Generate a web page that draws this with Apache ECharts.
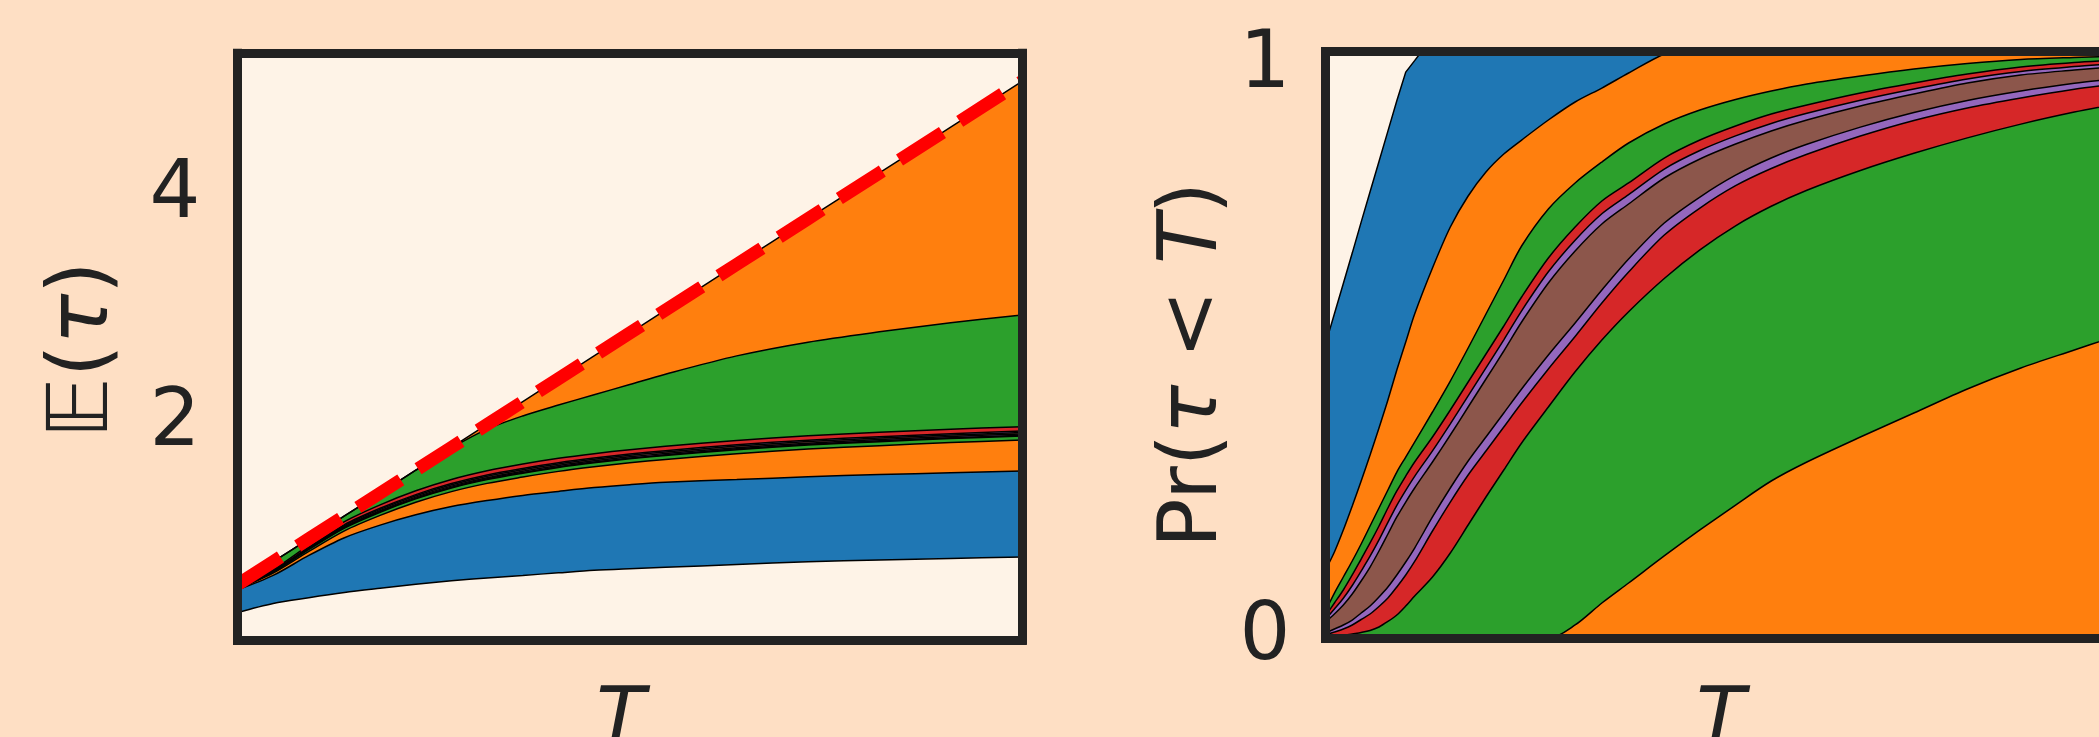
<!DOCTYPE html>
<html><head><meta charset="utf-8">
<script src="https://cdn.jsdelivr.net/npm/echarts@6/dist/echarts.min.js"></script>
<style>html,body{margin:0;padding:0;background:#fedfc4;} #c{width:2099px;height:737px;}</style>
</head><body><div id="c"></div>
<script>
// ---------- left panel: E(tau) vs T ----------
const T_LEFT = [0.6, 0.8, 1.0, 1.2, 1.4, 1.6, 1.8, 2.0, 2.2, 2.4, 2.6, 2.8, 3.0, 3.4, 3.8, 4.2, 4.6, 5.0];
const L0 = [0.6, 0.8, 1.0, 1.2, 1.4, 1.6, 1.8, 2.0, 2.2, 2.4, 2.6, 2.8, 3.0, 3.4, 3.8, 4.2, 4.6, 5.0];
const L1 = [0.6, 0.8, 1.0, 1.2, 1.4, 1.6, 1.795, 1.96, 2.075, 2.17, 2.26, 2.35, 2.44, 2.6, 2.72, 2.81, 2.89, 2.957];
const L2 = [0.561, 0.73, 0.945, 1.15, 1.297, 1.42, 1.519, 1.595, 1.654, 1.704, 1.745, 1.78, 1.809, 1.861, 1.901, 1.932, 1.959, 1.981];
const L3 = [0.561, 0.72, 0.927, 1.124, 1.267, 1.387, 1.484, 1.559, 1.616, 1.666, 1.707, 1.742, 1.771, 1.823, 1.863, 1.893, 1.92, 1.942];
const L4 = [0.561, 0.717, 0.921, 1.116, 1.258, 1.377, 1.473, 1.548, 1.605, 1.655, 1.696, 1.731, 1.76, 1.811, 1.851, 1.881, 1.908, 1.93];
const L5 = [0.561, 0.714, 0.915, 1.106, 1.246, 1.365, 1.461, 1.535, 1.591, 1.641, 1.682, 1.717, 1.746, 1.797, 1.837, 1.868, 1.895, 1.917];
const L6 = [0.561, 0.711, 0.91, 1.099, 1.238, 1.356, 1.451, 1.525, 1.581, 1.631, 1.671, 1.706, 1.735, 1.787, 1.827, 1.857, 1.884, 1.906];
const L7 = [0.561, 0.709, 0.907, 1.094, 1.233, 1.35, 1.445, 1.518, 1.574, 1.624, 1.665, 1.70, 1.729, 1.78, 1.82, 1.85, 1.877, 1.899];
const L8 = [0.561, 0.70, 0.89, 1.07, 1.205, 1.32, 1.413, 1.485, 1.54, 1.59, 1.63, 1.665, 1.694, 1.745, 1.785, 1.815, 1.842, 1.864];
const L9 = [0.553, 0.68, 0.855, 1.01, 1.12, 1.21, 1.282, 1.335, 1.38, 1.415, 1.448, 1.474, 1.495, 1.518, 1.543, 1.562, 1.578, 1.593];
const L10 = [0.356, 0.435, 0.485, 0.53, 0.567, 0.602, 0.633, 0.658, 0.68, 0.703, 0.725, 0.739, 0.751, 0.776, 0.80, 0.815, 0.829, 0.841];
const LEFT_TICKS = [2, 4];

// ---------- right panel: Pr(tau < T) vs T ----------
const T_RIGHT = [0.6, 0.65, 0.7, 0.75, 0.8, 0.85, 0.9, 0.95, 1.0, 1.05, 1.1, 1.2, 1.3, 1.4, 1.5, 1.6, 1.7, 1.85, 2.0, 2.15, 2.3, 2.5, 2.7, 2.9, 3.1, 3.3, 3.6, 3.9, 4.2, 4.5, 4.8, 5.0];
const B0 = [0.514, 0.567, 0.620, 0.673, 0.727, 0.780, 0.833, 0.886, 0.939, 0.989, 1.009, 1.05, 1.06, 1.06, 1.06, 1.06, 1.06, 1.06, 1.06, 1.06, 1.06, 1.06, 1.06, 1.06, 1.06, 1.06, 1.06, 1.06, 1.06, 1.06, 1.06, 1.06];
const B1 = [0.1196, 0.151, 0.1895, 0.2314, 0.275, 0.3204, 0.3676, 0.4164, 0.4688, 0.5177, 0.5666, 0.6469, 0.7185, 0.7727, 0.8146, 0.846, 0.8704, 0.9054, 0.9368, 0.9612, 0.9874, 1.0206, 1.04, 1.05, 1.055, 1.06, 1.06, 1.06, 1.06, 1.06, 1.06, 1.06];
const B2 = [0.048, 0.0794, 0.1074, 0.1353, 0.165, 0.1964, 0.2279, 0.2593, 0.2907, 0.3169, 0.3431, 0.3955, 0.4496, 0.5073, 0.5666, 0.626, 0.6854, 0.75, 0.7954, 0.832, 0.8652, 0.8984, 0.9228, 0.9412, 0.956, 0.9682, 0.9822, 0.9944, 1.004, 1.011, 1.0145, 1.0162];
const B3 = [0.0393, 0.062, 0.0847, 0.1109, 0.1388, 0.1668, 0.1964, 0.2279, 0.2576, 0.2837, 0.3082, 0.3518, 0.399, 0.4479, 0.4968, 0.5457, 0.5963, 0.6644, 0.7185, 0.7639, 0.7954, 0.839, 0.8704, 0.8949, 0.9158, 0.9316, 0.9525, 0.97, 0.9857, 0.9979, 1.0058, 1.0093];
const B4 = [0.0335, 0.0515, 0.0702, 0.0925, 0.1177, 0.1437, 0.1723, 0.2029, 0.2326, 0.2588, 0.2832, 0.3277, 0.3749, 0.4238, 0.4727, 0.5216, 0.5722, 0.6403, 0.6955, 0.7417, 0.7751, 0.8198, 0.8521, 0.8776, 0.8994, 0.9171, 0.9399, 0.9595, 0.977, 0.9902, 0.9986, 1.003];
const B5 = [0.0288, 0.0428, 0.0585, 0.0777, 0.1004, 0.1248, 0.1528, 0.1825, 0.2122, 0.2383, 0.2628, 0.3082, 0.3553, 0.4042, 0.4531, 0.502, 0.5526, 0.6207, 0.6766, 0.7238, 0.7587, 0.8041, 0.8373, 0.8634, 0.8862, 0.9054, 0.9298, 0.9508, 0.97, 0.9839, 0.9927, 0.9979];
const B6 = [0.0096, 0.0166, 0.0236, 0.0323, 0.0445, 0.0567, 0.0725, 0.0899, 0.1109, 0.1336, 0.158, 0.2122, 0.2628, 0.3099, 0.3518, 0.3937, 0.4357, 0.495, 0.5509, 0.6085, 0.6627, 0.7255, 0.7709, 0.809, 0.839, 0.863, 0.893, 0.9185, 0.9395, 0.956, 0.9695, 0.9765];
const B7 = [0.0061, 0.0113, 0.0166, 0.0236, 0.0332, 0.0428, 0.0559, 0.0707, 0.0899, 0.1109, 0.1345, 0.1877, 0.2383, 0.2855, 0.3274, 0.3693, 0.4112, 0.4706, 0.5273, 0.5858, 0.64, 0.7045, 0.7517, 0.7907, 0.8207, 0.8455, 0.8773, 0.9045, 0.9264, 0.9438, 0.959, 0.9669];
const B8 = [0.0017, 0.0035, 0.0052, 0.0079, 0.0105, 0.014, 0.0201, 0.0297, 0.041, 0.0567, 0.0742, 0.1074, 0.1493, 0.1982, 0.2471, 0.2942, 0.3414, 0.4042, 0.4657, 0.5212, 0.5707, 0.6287, 0.6787, 0.7207, 0.7547, 0.7827, 0.8172, 0.8472, 0.8742, 0.8982, 0.9192, 0.9312];
const B9 = [0, 0, 0, 0, 0, 0, 0, 0, 0, 0, 0, 0, 0, 0, 0, 0, 0, 0, 0.0236, 0.062, 0.0969, 0.1441, 0.1895, 0.2331, 0.275, 0.3082, 0.3518, 0.3937, 0.4357, 0.4723, 0.5038, 0.5247];
const RIGHT_TICKS = [0, 1];

// ---------- styling ----------
const BLUE = '#1f77b4', ORANGE = '#ff7f0e', GREEN = '#2ca02c', RED = '#d62728', PURPLE = '#9467bd', BROWN = '#8c564b';
const FIG_BG = '#fedfc4', AX_BG = '#fef3e7', INK = '#222222';
const FONT = 'DejaVu Sans';

const leftCurves = [L0, L1, L2, L3, L4, L5, L6, L7, L8, L9, L10];
const leftFills = [ORANGE, GREEN, RED, PURPLE, BROWN, PURPLE, RED, GREEN, ORANGE, BLUE, AX_BG];
const rightCurves = [B0, B1, B2, B3, B4, B5, B6, B7, B8, B9];
const rightFills = [BLUE, ORANGE, GREEN, RED, PURPLE, BROWN, PURPLE, RED, GREEN, ORANGE];

function pairs(xs, ys) { return xs.map((x, i) => [x, ys[i]]); }

const series = [];
function addBands(xs, curves, fills, xi, yi, smoothFor) {
  curves.forEach((ys, k) => {
    series.push({
      type: 'line', xAxisIndex: xi, yAxisIndex: yi, data: pairs(xs, ys),
      smooth: smoothFor(k), showSymbol: false, symbol: 'none', silent: true, clip: true,
      lineStyle: { width: 0, opacity: 0 },
      areaStyle: { color: fills[k], opacity: 1, origin: 'start' }, z: 1
    });
  });
  curves.forEach((ys, k) => {
    series.push({
      type: 'line', xAxisIndex: xi, yAxisIndex: yi, data: pairs(xs, ys),
      smooth: smoothFor(k), showSymbol: false, symbol: 'none', silent: true, clip: true,
      lineStyle: { width: 1.5, color: '#000' }, z: 2
    });
  });
}
addBands(T_LEFT, leftCurves, leftFills, 0, 0, () => 0.3);
addBands(T_RIGHT, rightCurves, rightFills, 2, 2, (k) => (k === 0 ? false : 0.3));
series.push({
  type: 'line', xAxisIndex: 0, yAxisIndex: 0, data: pairs(T_LEFT, L0),
  showSymbol: false, symbol: 'none', silent: true, clip: true,
  lineStyle: { color: '#ff0000', width: 13, type: [51, 20.5], cap: 'butt' }, z: 3
});

const frameLine = { show: true, onZero: false, lineStyle: { color: INK, width: 9, cap: 'square' } };
const italic = { fontStyle: 'italic', fontFamily: FONT, fontSize: 82, color: INK };

function xAxes(gridIndex, gap, pad) {
  return [
    { type: 'value', gridIndex, min: 0.6, max: 5.0, position: 'bottom', z: 10,
      axisLine: frameLine, axisTick: { show: false }, axisLabel: { show: false }, splitLine: { show: false },
      name: 'T', nameLocation: 'middle', nameGap: gap,
      nameTextStyle: { fontFamily: FONT, fontStyle: 'italic', fontSize: 80, color: INK, padding: pad } },
    { type: 'value', gridIndex, min: 0.6, max: 5.0, position: 'top', z: 10,
      axisLine: frameLine, axisTick: { show: false }, axisLabel: { show: false }, splitLine: { show: false } }
  ];
}

const option = {
  backgroundColor: FIG_BG,
  animation: false,
  grid: [
    { left: 237.5, top: 53.3, width: 784.5, height: 587, show: true, backgroundColor: AX_BG, borderWidth: 0, containLabel: false, outerBoundsMode: 'none' },
    { left: 1325.5, top: 51.5, width: 784.5, height: 587, show: true, backgroundColor: AX_BG, borderWidth: 0, containLabel: false, outerBoundsMode: 'none' }
  ],
  xAxis: [].concat(xAxes(0, 43, [0, 18, 0, 0]), xAxes(1, 45, [0, 0, 0, 6])),
  yAxis: [
    { type: 'value', gridIndex: 0, min: 0.1128, max: 5.246, position: 'left', z: 10,
      axisLine: frameLine, axisTick: { show: false }, splitLine: { show: false },
      axisLabel: { customValues: LEFT_TICKS, margin: 37, fontSize: 80, fontFamily: FONT, color: INK, padding: [10, 0, 0, 0] },
      name: '{bb|𝔼}({it|τ})', nameLocation: 'middle', nameRotate: 90, nameGap: 110,
      nameTextStyle: { fontFamily: FONT, fontSize: 84, color: INK, padding: [0, 6, 0, 0],
        rich: { bb: { fontFamily: FONT, fontStyle: 'italic', fontSize: 84, color: INK }, it: Object.assign({}, italic, { fontSize: 84 }) } } },
    { type: 'value', gridIndex: 0, min: 0.1128, max: 5.246, position: 'right', z: 10,
      axisLine: frameLine, axisTick: { show: false }, axisLabel: { show: false }, splitLine: { show: false } },
    { type: 'value', gridIndex: 1, min: 0, max: 1.025, position: 'left', z: 10,
      axisLine: frameLine, axisTick: { show: false }, splitLine: { show: false },
      axisLabel: { customValues: RIGHT_TICKS, margin: 35, fontSize: 80, fontFamily: FONT, color: INK },
      name: 'Pr({it|τ} < {it|T})', nameLocation: 'middle', nameRotate: 90, nameGap: 90,
      nameTextStyle: { fontFamily: FONT, fontSize: 82, color: INK, padding: [0, 40, 0, 0], rich: { it: italic } } },
    { type: 'value', gridIndex: 1, min: 0, max: 1.025, position: 'right', z: 10,
      axisLine: frameLine, axisTick: { show: false }, axisLabel: { show: false }, splitLine: { show: false } }
  ],
  series: series
};

const chart = echarts.init(document.getElementById('c'), null, { renderer: 'canvas', width: 2099, height: 737 });
chart.setOption(option);
</script></body></html>
